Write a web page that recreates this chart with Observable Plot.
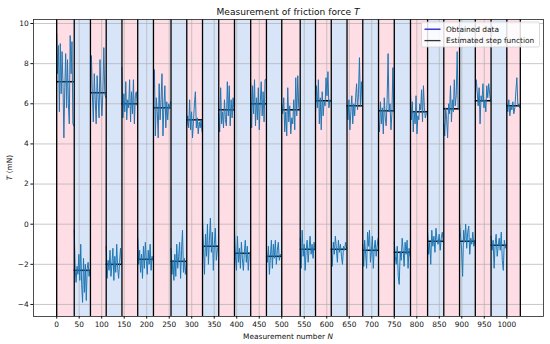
<!DOCTYPE html>
<html>
<head>
<meta charset="utf-8">
<script src="https://cdn.jsdelivr.net/npm/d3@7"></script>
<script src="https://cdn.jsdelivr.net/npm/@observablehq/plot@0.6"></script>
<style>
  html, body { margin: 0; padding: 0; background: white; }
</style>
</head>
<body>
<div id="chart"></div>
<script>
// Segment boundaries (measurement numbers) and estimated step levels
const boundaries = [0, 39, 75, 110, 145, 180, 215, 254, 289, 324, 360, 395, 431, 466, 500,
  541, 575, 610, 645, 680, 715, 750, 786, 824, 860, 895, 930, 965, 1000, 1030];
const levels = [7.1, -2.3, 6.55, -2.0, 6.0, -1.75, 5.8, -1.85, 5.2, -1.1, 5.7, -1.45, 6.0, -1.6,
  5.7, -1.25, 6.15, -1.25, 5.9, -1.3, 5.65, -1.4, 5.6, -0.85, 5.75, -0.85, 6.15, -1.05, 5.9];

// Obtained data, one array per segment
const seg01 = [9.5, 7.5, 8.9, 5.6, 9.0, 6.5, 8.6, 7.0, 4.3, 6.8, 8.5, 5.8, 8.2, 6.0, 5.0, 9.4, 7.5, 9.1, 5.0, 4.9];
const seg02 = [-0.3, -2.2, -2.9, -2.1, -2.5, -1.5, -2.8, -1.0, -3.0, -3.9, -1.7, -3.4, -2.0, -3.8, -2.2, -1.9, -2.6, -2.3];
const seg03 = [6.0, 8.4, 6.5, 5.1, 7.5, 6.2, 5.0, 7.4, 6.3, 5.3, 8.2, 6.4, 5.4, 6.6, 8.8, 6.5, 6.3];
const seg04 = [-1.1, -2.7, -1.8, -2.3, -1.3, -2.6, -2.0, -1.2, -2.8, -1.6, -2.4, -1.0, -2.2, -2.7, -1.9, -1.2, -2.0];
const seg05 = [7.8, 5.3, 6.5, 5.6, 7.1, 5.2, 6.2, 5.8, 7.2, 5.1, 6.6, 5.5, 7.2, 5.0, 6.4, 6.6, 5.9];
const seg06 = [-0.7, -2.0, -1.3, -2.4, -1.5, -2.7, -1.1, -2.2, -0.9, -1.8, -2.5, -1.3, -2.0, -1.0, -2.3, -1.6, -1.8];
const seg07 = [6.5, 7.7, 4.4, 6.3, 5.6, 4.3, 7.0, 5.2, 6.2, 7.5, 4.4, 5.9, 6.9, 4.8, 6.1, 5.2, 6.0, 5.8, 6.1];
const seg08 = [-1.2, -2.5, -1.8, -2.8, -1.5, -2.6, -1.0, -2.2, -1.6, -0.9, -2.7, -1.3, -0.3, -2.4, -1.7, -2.5, -1.9];
const seg09 = [4.9, 5.4, 4.8, 6.2, 4.7, 5.6, 4.3, 5.1, 6.0, 6.6, 4.8, 5.3, 4.5, 5.1, 4.8, 5.2, 4.6];
const seg10 = [0.2, -1.2, -2.5, -0.5, -1.6, 0.0, -2.0, -0.8, 0.3, -1.4, -0.4, -2.3, -1.0, -0.2, -1.8, -1.3, -1.1];
const seg11 = [5.5, 4.6, 6.8, 5.0, 5.6, 4.8, 6.2, 5.2, 4.9, 7.1, 5.4, 6.9, 4.9, 6.2, 5.3, 6.3, 5.7];
const seg12 = [-0.3, -1.6, -2.3, -0.6, -1.9, -1.2, -2.2, -0.9, -1.7, -2.3, -1.4, -0.8, -1.9, -1.1, -2.3, -1.5, -1.4];
const seg13 = [7.0, 4.8, 6.9, 5.5, 7.2, 4.9, 6.3, 5.2, 6.8, 4.7, 6.0, 7.1, 5.4, 6.6, 5.1, 7.2, 7.2];
const seg14 = [-1.3, -1.9, -1.1, -2.5, -1.6, -0.8, -2.2, -1.0, -1.7, -0.8, -2.0, -1.3, -0.9, -1.8, -1.5, -1.6];
const seg15 = [6.0, 5.5, 6.3, 4.6, 5.6, 4.4, 6.8, 5.1, 5.9, 4.5, 5.3, 5.0, 6.2, 4.7, 7.3, 5.4, 7.4, 5.8, 5.7];
const seg16 = [-0.7, -2.2, -0.3, -1.6, -1.0, -2.3, -1.3, -0.8, -1.9, -1.2, -0.6, -1.5, -1.0, -1.7, -0.9, -1.3];
const seg17 = [5.5, 6.9, 5.8, 7.2, 5.0, 6.3, 4.7, 6.6, 5.4, 6.1, 5.9, 7.3, 6.4, 7.6, 5.8, 6.2, 6.1];
const seg18 = [-1.3, -2.1, -0.9, -1.5, -0.6, -1.2, -1.9, -0.8, -1.4, -1.0, -1.6, -2.0, -1.1, -1.3, -0.9, -1.2];
const seg19 = [5.9, 5.2, 6.2, 4.7, 5.6, 6.4, 5.0, 6.0, 5.4, 6.3, 7.0, 5.7, 6.5, 8.3, 5.9, 7.1, 6.0];
const seg20 = [-1.0, -2.1, -0.8, -1.5, -2.2, -0.4, -1.1, -0.3, -1.9, -1.4, -0.6, -2.2, -1.2, -0.8, -1.6, -1.1, -0.7];
const seg21 = [5.2, 4.6, 6.1, 5.0, 5.8, 4.5, 6.3, 5.3, 4.9, 6.2, 8.5, 5.6, 6.0, 4.7, 5.5, 7.8, 5.6];
const seg22 = [-0.9, -1.6, -2.0, -1.1, -2.6, -3.0, -1.4, -1.8, -0.7, -1.3, -2.1, -0.9, -1.5, -0.8, -2.2, -1.2, -1.6];
const seg23 = [6.6, 5.2, 6.1, 4.6, 5.6, 5.0, 6.4, 4.5, 5.4, 5.2, 6.0, 5.7, 6.7, 5.1, 6.9, 5.8, 5.3, 5.5, 5.6];
const seg24 = [-0.4, -1.5, -0.9, -2.0, -0.3, -1.1, -0.6, -1.4, -0.2, -0.8, -1.0, -0.5, -1.3, -0.7, -0.4, -0.9];
const seg25 = [5.0, 4.4, 5.8, 5.2, 4.3, 6.0, 5.5, 6.9, 5.1, 6.2, 5.6, 7.2, 5.9, 6.4, 8.6, 5.8, 5.7];
const seg26 = [0.1, -0.6, -1.3, -2.6, -0.3, -0.9, 0.0, -1.2, -0.4, -0.1, -1.5, -0.7, -1.0, -0.4, -1.1, -0.8];
const seg27 = [6.3, 7.2, 6.6, 5.9, 6.8, 5.0, 6.4, 6.1, 7.0, 5.8, 6.2, 5.6, 6.9, 6.3, 7.0, 6.5, 6.1];
const seg28 = [-0.6, -1.3, -0.8, -2.2, -1.0, -0.5, -1.6, -1.1, -0.7, -1.3, -0.4, -1.8, -2.3, -0.8, -1.2, -1.0];
const seg29 = [6.0, 5.6, 6.2, 5.4, 5.9, 5.7, 6.1, 5.5, 5.8, 6.6, 7.3, 5.9, 6.0, 5.8];

const xTicks = [0, 50, 100, 150, 200, 250, 300, 350, 400, 450, 500, 550, 600, 650, 700, 750, 800, 850, 900, 950, 1000];
const yTicks = [-4, -2, 0, 2, 4, 6, 8, 10];

const segments = [seg01, seg02, seg03, seg04, seg05, seg06, seg07, seg08, seg09, seg10,
  seg11, seg12, seg13, seg14, seg15, seg16, seg17, seg18, seg19, seg20,
  seg21, seg22, seg23, seg24, seg25, seg26, seg27, seg28, seg29];

const rows = [];
segments.forEach((vals, k) => {
  const s = boundaries[k], e = boundaries[k + 1] - 1, n = vals.length;
  vals.forEach((v, i) => rows.push({N: s + i * (e - s) / (n - 1), T: v, seg: k}));
});
const steps = levels.map((L, k) => ({x1: boundaries[k], x2: boundaries[k + 1], T: L, k}));
const pinkBands = steps.filter(d => d.k % 2 === 0);
const blueBands = steps.filter(d => d.k % 2 === 1);

const PINK = "#fedde5", BLUE = "#d8e5f8";
const minus = d => (d < 0 ? "\u2212" + Math.abs(d) : String(d));

const plot = Plot.plot({
  width: 550,
  height: 344,
  marginLeft: 33,
  marginRight: 7,
  marginTop: 19,
  marginBottom: 28,
  style: {fontFamily: "DejaVu Sans", fontSize: "7.4px", background: "white", color: "#111"},
  x: {domain: [-51.5, 1081.5], label: null},
  y: {domain: [-4.6, 10.2], label: null},
  marks: [
    Plot.rect(pinkBands, {x1: "x1", x2: "x2", fill: PINK}),
    Plot.rect(blueBands, {x1: "x1", x2: "x2", fill: BLUE}),
    Plot.gridX(xTicks, {stroke: "#b0b0b0", strokeOpacity: 1, strokeWidth: 0.7}),
    Plot.gridY(yTicks, {stroke: "#b0b0b0", strokeOpacity: 1, strokeWidth: 0.7}),
    Plot.ruleY(steps, {y: "T", x1: "x1", x2: "x2", stroke: "black", strokeWidth: 1.5}),
    Plot.line(rows, {x: "N", y: "T", z: "seg", stroke: "#1f77b4", strokeWidth: 1}),
    Plot.ruleX(boundaries, {stroke: "black", strokeWidth: 1.3}),
    Plot.frame({stroke: "#222", strokeWidth: 0.8}),
    Plot.axisX(xTicks, {tickSize: 2.6, tickPadding: 2.4, label: null, tickFormat: minus}),
    Plot.axisY(yTicks, {tickSize: 2.6, tickPadding: 2.2, label: null, tickFormat: minus})
  ]
});

document.getElementById("chart").appendChild(plot);

const svg = d3.select(plot);
const cx = (33 + 543) / 2;

// Title
const title = svg.append("text")
  .attr("x", cx).attr("y", 14.5)
  .attr("text-anchor", "middle")
  .attr("font-size", 9.1)
  .attr("fill", "#111");
title.append("tspan").text("Measurement of friction force ");
title.append("tspan").attr("font-style", "italic").text("T");

// X label
const xl = svg.append("text")
  .attr("x", cx).attr("y", 338.5)
  .attr("text-anchor", "middle")
  .attr("font-size", 7.4)
  .attr("fill", "#111");
xl.append("tspan").text("Measurement number ");
xl.append("tspan").attr("font-style", "italic").text("N");

// Y label
const yl = svg.append("text")
  .attr("transform", `translate(11.5,${(19 + 316) / 2}) rotate(-90)`)
  .attr("text-anchor", "middle")
  .attr("font-size", 7.4)
  .attr("fill", "#111");
yl.append("tspan").attr("font-style", "italic").text("T");
yl.append("tspan").text(" (mN)");

// Legend
const lg = svg.append("g").attr("text-anchor", "start");
lg.append("rect")
  .attr("x", 421.5).attr("y", 22).attr("width", 118).attr("height", 25)
  .attr("rx", 1.5)
  .attr("fill", "white").attr("fill-opacity", 0.85)
  .attr("stroke", "#cccccc").attr("stroke-width", 0.7);
const legendItems = [
  {label: "Obtained data", color: "#1a1ad6", y: 29.2},
  {label: "Estimated step function", color: "#333333", y: 40.6}
];
legendItems.forEach(it => {
  lg.append("line")
    .attr("x1", 424.5).attr("x2", 440.5)
    .attr("y1", it.y).attr("y2", it.y)
    .attr("stroke", it.color).attr("stroke-width", 1.3);
  lg.append("text")
    .attr("x", 446).attr("y", it.y)
    .attr("dy", "0.35em")
    .attr("text-anchor", "start")
    .attr("font-size", 7.4)
    .attr("fill", "#111")
    .text(it.label);
});
</script>
</body>
</html>
